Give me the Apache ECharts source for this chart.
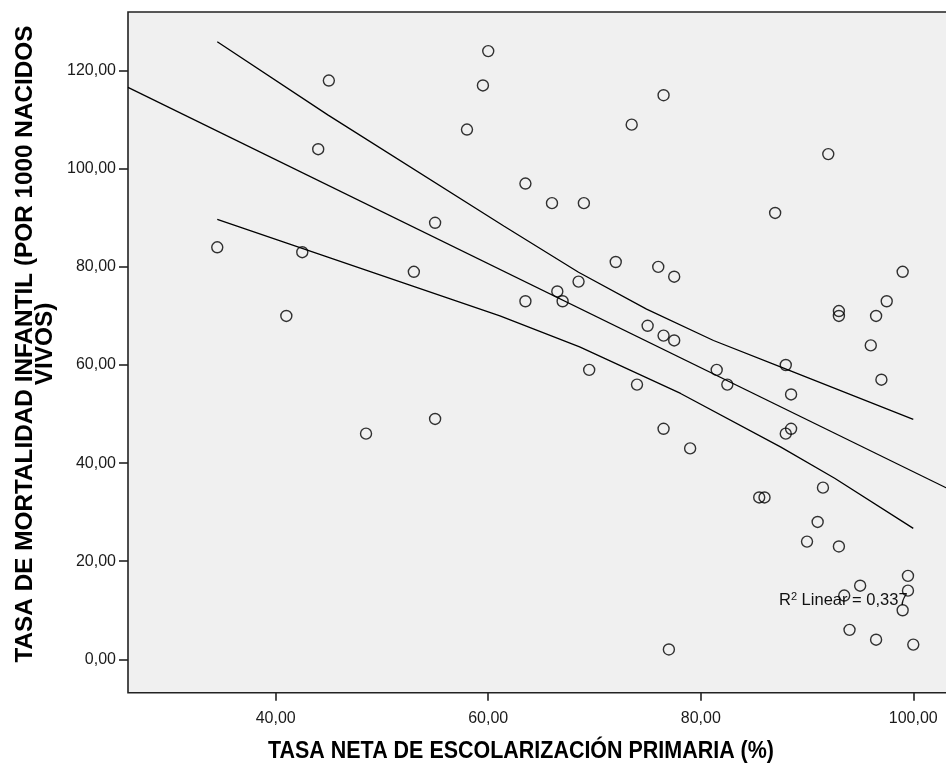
<!DOCTYPE html>
<html>
<head>
<meta charset="utf-8">
<script src="https://cdn.jsdelivr.net/npm/echarts@6/dist/echarts.min.js"></script>
<style>
  html, body { margin: 0; padding: 0; background: #fff; overflow: hidden; }
  /* the plot frame runs past the right edge of the page, so no right border shows */
  #chart { width: 956px; height: 767px; }
</style>
</head>
<body>
<div id="chart"></div>
<script>
// Net primary enrolment rate (%) vs. infant mortality per 1000 live births
const enrolment = [
  34.5, 41, 42.5, 44, 45, 48.5, 53, 55, 55, 58,
  59.5, 60, 63.5, 63.5, 66, 66.5, 67, 68.5, 69, 69.5,
  72, 73.5, 74, 75, 76, 76.5, 76.5, 76.5, 77, 77.5,
  77.5, 79, 81.5, 82.5, 85.5, 86, 87, 88, 88, 88.5,
  88.5, 90, 91, 91.5, 92, 93, 93, 93, 93.5, 94,
  95, 96, 96.5, 96.5, 97, 97.5, 99, 99, 99.5, 99.5,
  100
];
const mortality = [
  84, 70, 83, 104, 118, 46, 79, 89, 49, 108,
  117, 124, 97, 73, 93, 75, 73, 77, 93, 59,
  81, 109, 56, 68, 80, 115, 66, 47, 2, 78,
  65, 43, 59, 56, 33, 33, 91, 60, 46, 54,
  47, 24, 28, 35, 103, 71, 70, 23, 13, 6,
  15, 64, 70, 4, 57, 73, 79, 10, 17, 14,
  3
];

// Linear fit and the 95% confidence band of the mean
const fitLine = [[26.1, 116.6], [104.0, 34.0]];
const bandUpper = [[34.5, 125.9], [44.9, 111.0], [61.5, 88.3], [68.5, 78.9], [74.9, 71.4], [81.2, 65.0], [87.5, 59.6], [100, 48.9]];
const bandLower = [[34.5, 89.7], [61.1, 70.0], [68.6, 63.7], [78.1, 54.2], [87.5, 43.3], [92.6, 36.9], [100, 26.7]];

const xTicks = [40, 60, 80, 100];
const yTicks = [0, 20, 40, 60, 80, 100, 120];
const rSquared = '0,337';

const xTitle = 'TASA NETA DE ESCOLARIZACIÓN PRIMARIA (%)';
const yTitle1 = 'TASA DE MORTALIDAD INFANTIL (POR 1000 NACIDOS';
const yTitle2 = 'VIVOS)';

const xTitleFont = 'bold 23px "Liberation Sans", Arial, sans-serif';
const yTitleFont = 'bold 23px "Liberation Sans", Arial, sans-serif';
function textWidth(str, font) {
  const ctx = document.createElement('canvas').getContext('2d');
  ctx.font = font;
  return ctx.measureText(str).width;
}
// condensed bold titles
const xTitleScale = 506 / textWidth(xTitle, xTitleFont);
const yTitleScale = 637 / textWidth(yTitle1, yTitleFont);

const comma = v => v.toFixed(2).replace('.', ',');
const points = enrolment.map((x, i) => [x, mortality[i]]);
const labelFont = '"Liberation Sans", Arial, sans-serif';

const chart = echarts.init(document.getElementById('chart'), null, { renderer: 'canvas' });
chart.setOption({
  animation: false,
  backgroundColor: '#ffffff',
  grid: {
    left: 128, top: 12, right: 0, bottom: 74.3,
    show: true, backgroundColor: '#f0f0f0',
    borderColor: '#222', borderWidth: 1.6
  },
  xAxis: {
    type: 'value', min: 26.1, max: 104.02,
    splitLine: { show: false },
    axisLine: { show: false, onZero: false },
    axisTick: { show: true, length: 8, customValues: xTicks, lineStyle: { color: '#222', width: 1.6 } },
    axisLabel: {
      customValues: xTicks, formatter: comma, margin: 18,
      color: '#1a1a1a', fontSize: 16, fontFamily: labelFont
    }
  },
  yAxis: {
    type: 'value', min: -6.81, max: 131.97,
    splitLine: { show: false },
    axisLine: { show: false, onZero: false },
    axisTick: { show: true, length: 9, customValues: yTicks, lineStyle: { color: '#222', width: 1.6 } },
    axisLabel: {
      customValues: yTicks, formatter: comma, margin: 12,
      color: '#1a1a1a', fontSize: 16, fontFamily: labelFont
    }
  },
  series: [
    {
      type: 'line', data: fitLine, symbol: 'none', silent: true,
      lineStyle: { color: '#000', width: 1.3 }
    },
    {
      type: 'line', data: bandUpper, symbol: 'none', silent: true,
      lineStyle: { color: '#000', width: 1.3 }
    },
    {
      type: 'line', data: bandLower, symbol: 'none', silent: true,
      lineStyle: { color: '#000', width: 1.3 }
    },
    {
      type: 'scatter', data: points, symbol: 'circle', symbolSize: 11,
      itemStyle: { color: 'rgba(0,0,0,0)', borderColor: '#000', borderWidth: 1.4 }
    }
  ],
  graphic: [
    {
      type: 'text', x: 521, y: 752, scaleX: xTitleScale,
      style: {
        text: xTitle, font: xTitleFont, fill: '#000',
        textAlign: 'center', textVerticalAlign: 'middle'
      }
    },
    {
      type: 'text', x: 36, y: 344, rotation: Math.PI / 2, scaleX: yTitleScale,
      style: {
        text: yTitle1 + '\n' + yTitle2, font: yTitleFont, fill: '#000', lineHeight: 20,
        textAlign: 'center', textVerticalAlign: 'middle'
      }
    },
    {
      type: 'text', x: 779, y: 600,
      style: {
        text: '{r|R}{s|2}{t| Linear = ' + rSquared + '}',
        textVerticalAlign: 'middle',
        rich: {
          r: { fontSize: 16.5, fontFamily: labelFont, fill: '#111', lineHeight: 18 },
          s: { fontSize: 11, fontFamily: labelFont, fill: '#111', verticalAlign: 'top', lineHeight: 18, padding: [0, 0, 6, 0] },
          t: { fontSize: 16.5, fontFamily: labelFont, fill: '#111', lineHeight: 18 }
        }
      }
    }
  ]
});
</script>
</body>
</html>
